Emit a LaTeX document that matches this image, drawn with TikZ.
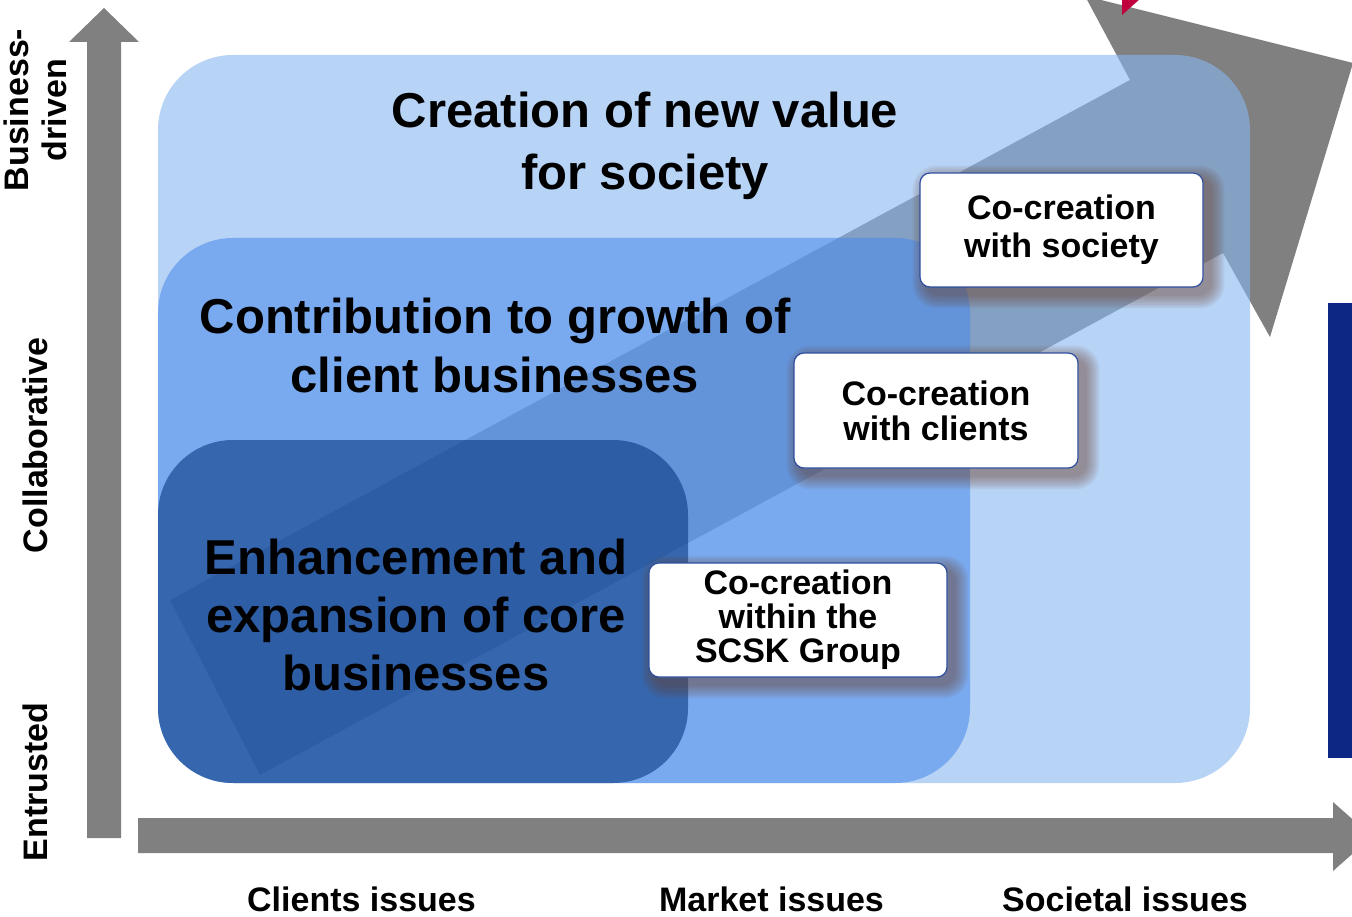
\documentclass[tikz,border=0pt]{standalone}
\usepackage{fontspec}
\setmainfont{Liberation Sans}
\definecolor{axisgray}{RGB}{128,128,128}
\definecolor{lightblue}{RGB}{135,182,240}
\definecolor{midblue}{RGB}{74,138,235}
\definecolor{darkblue}{RGB}{10,58,130}
\definecolor{navybar}{RGB}{12,40,132}
\definecolor{crimson}{RGB}{192,0,60}
\definecolor{boxline}{RGB}{47,79,160}
\definecolor{shadowcol}{RGB}{110,62,40}
\newcommand\boxshadow[4]{%
  \foreach \k in {1,...,8}{%
    \fill[shadowcol, fill opacity=0.07, rounded corners=12+1.5*\k]
      (#1+7-1.8*\k, #2+7-1.8*\k) rectangle (#3+7+1.8*\k, #4+7+1.8*\k);}}
\begin{document}
\begin{tikzpicture}[x=1pt,y=-1pt,
  bigtext/.style={font=\fontsize{49}{#1}\selectfont\bfseries, align=center, inner sep=0pt, text=black},
  axislabel/.style={font=\fontsize{34}{38}\selectfont\bfseries, align=center, inner sep=0pt, text=black},
  cobox/.style={draw=boxline, line width=1.2pt, fill=white, rounded corners=10pt, align=center, inner sep=0pt, font=\fontsize{34}{#1}\selectfont\bfseries},
  arrowfill/.style={fill=axisgray},
]
\useasboundingbox (0,0) rectangle (1352,917);
\clip (0,0) rectangle (1352,917);
\fill[white] (0,0) rectangle (1352,917);

% diagonal arrow
\fill[arrowfill] (170,600) -- (1130,80) -- (1085,-4) -- (1353,63) -- (1270,337) -- (1223,253) -- (260,775) -- cycle;
\fill[crimson] (1122,-2) -- (1141,-2) -- (1122,15) -- cycle;

% nested areas
\fill[lightblue, fill opacity=0.6, rounded corners=75pt] (158,55) rectangle (1250,783);
\fill[midblue, fill opacity=0.56, rounded corners=75pt] (158,238) rectangle (970,783);
\fill[darkblue, fill opacity=0.6, rounded corners=75pt] (158,440) rectangle (688,783);

% axes
\fill[arrowfill] (87,838) -- (87,42) -- (69,42) -- (104,8) -- (139,42) -- (121,42) -- (121,838) -- cycle;
\fill[arrowfill] (138,818) -- (1333,818) -- (1333,802) -- (1372,836.5) -- (1333,871) -- (1333,853) -- (138,853) -- cycle;

% navy bar
\fill[navybar] (1328,303) rectangle (1352,758);

% area texts
\node[bigtext=62] (value) at (645,145.7) {Creation of new value\\for society};
\node[bigtext=59] (growth) at (495,345.5) {Contribution to growth of\\client businesses};
\node[bigtext=58] (core) at (416,614.5) {Enhancement and\\expansion of core\\businesses};

% axis labels
\node[axislabel, anchor=base] (clients) at (361.5,911) {Clients issues};
\node[axislabel, anchor=base] (market) at (771.5,911) {Market issues};
\node[axislabel, anchor=base] (societal) at (1125,911) {Societal issues};
\node[axislabel, rotate=90, anchor=base] (entrusted) at (47,782) {Entrusted};
\node[axislabel, rotate=90, anchor=base] (collab) at (47,445.5) {Collaborative};
\node[axislabel, rotate=90] (business) at (35,110) {Business-\\driven};

% co-creation boxes
\boxshadow{920}{173}{1203}{287}
\node[cobox=38, minimum width=283pt, minimum height=114pt] (society) at (1061.5,230) {Co-creation\\with society};
\boxshadow{794}{353}{1078}{468}
\node[cobox=35, minimum width=284pt, minimum height=115pt] (clientsbox) at (936,410.5) {Co-creation\\with clients};
\boxshadow{649}{563}{947}{677}
\node[cobox=34, minimum width=298pt, minimum height=114pt] (group) at (798,620) {Co-creation\\within the\\SCSK Group};
\end{tikzpicture}
\end{document}
